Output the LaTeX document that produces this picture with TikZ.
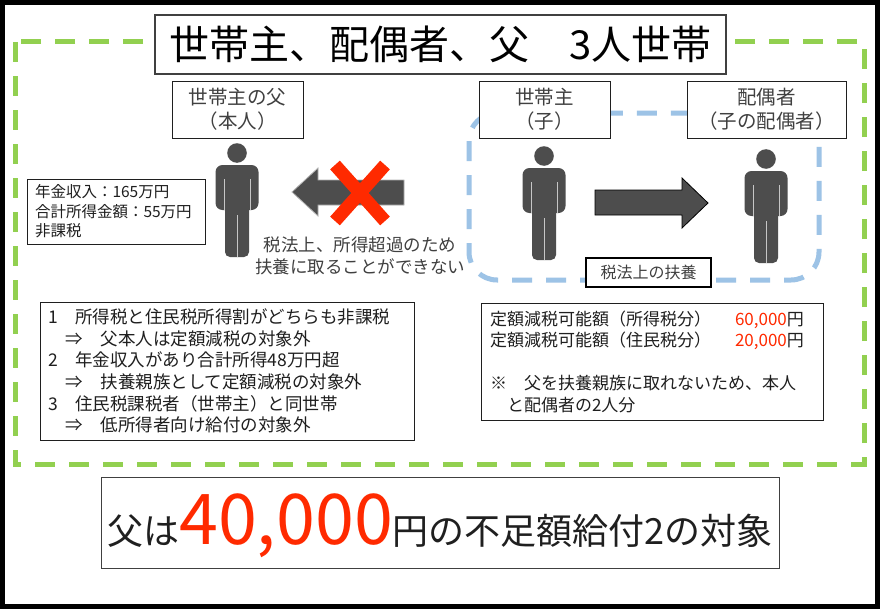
\documentclass[tikz,border=0pt]{standalone}
\usepackage{fontspec}
\setmainfont{Noto Sans CJK JP}
\definecolor{pgreen}{HTML}{92D050}
\definecolor{pblue}{HTML}{9DC3E6}
\definecolor{pgray}{HTML}{4D4D4D}
\definecolor{pred}{HTML}{FF2A00}
\definecolor{ptext}{HTML}{404040}
\definecolor{pdark}{HTML}{1F1F1F}
\tikzset{
  person/.pic={
    \fill[pgray] (0,10) circle (9.8);
    \fill[pgray,rounded corners=7] (-21.5,67) -- (-21.5,22) -- (21.5,22) -- (21.5,67) -- cycle;
    \fill[pgray,rounded corners=5] (-12,60) -- (-12,114) -- (12,114) -- (12,60) -- cycle;
    \draw[gray!45,line width=0.8] (-13,36) -- (-13,67) (13,36) -- (13,67) (0,72) -- (0,114);
  },
  labelbox/.style={draw=pdark,line width=1,fill=white,text=ptext,align=center,
    minimum height=57,inner sep=0,font=\fontsize{19.5}{24}\selectfont},
  infobox/.style={draw=pdark,line width=1,fill=white,text=pdark,align=left,inner ysep=0},
  dashgreen/.style={pgreen,line width=5,dash pattern=on 20 off 14},
  dashblue/.style={pblue,line width=5,dash pattern=on 20 off 14,rounded corners=28},
}
\begin{document}
\begin{tikzpicture}[x=1pt,y=-1pt]
\useasboundingbox (0,0) rectangle (880,610);
\fill[white] (0,0) rectangle (880,610);
\draw[line width=5] (2.5,2.5) rectangle (877.5,606.5);

% frames
\draw[dashgreen] (15,42) rectangle (864,464);
\draw[dashblue] (469,113) rectangle (819,280);

% title
\node[draw=ptext,line width=2,fill=white,minimum width=571,minimum height=59,inner sep=0,
  font=\fontsize{40}{48}\selectfont] (title) at (440.5,44.5) {世帯主、配偶者、父　3人世帯};

% label boxes
\node[labelbox,minimum width=131] (lfather) at (237.5,109.5) {世帯主の父\\（本人）};
\node[labelbox,minimum width=131] (lchild) at (544.5,109.5) {世帯主\\（子）};
\node[labelbox,minimum width=159] (lspouse) at (766.5,109.5) {配偶者\\（子の配偶者）};

% persons
\pic (father) at (237,143) {person};
\pic (child) at (544,146) {person};
\pic (spouse) at (766,149) {person};

% arrows
\filldraw[fill=pgray,draw=gray!60,line width=0.8] (292,192) -- (318,168) -- (318,180) -- (404,180)
  -- (404,205) -- (318,205) -- (318,216) -- cycle;
\filldraw[fill=pgray,draw=black,line width=0.8] (595,190) -- (682,190) -- (682,178) -- (708,203)
  -- (682,228) -- (682,215) -- (595,215) -- cycle;

% red cross
\draw[pred,line width=13] (335,165) -- (385,221) (385,165) -- (335,221);

\node[text=ptext,align=center,font=\fontsize{17.5}{22}\selectfont] (note) at (360,256)
  {税法上、所得超過のため\\扶養に取ることができない};

\node[draw=black,line width=2,fill=white,minimum width=125,minimum height=29,inner sep=0,
  text=ptext,font=\fontsize{16}{19}\selectfont] (fuyou) at (648.5,272.5) {税法上の扶養};

% info box left
\node[infobox,text width=162,inner xsep=8,minimum height=65,
  font=\fontsize{15.5}{19.5}\selectfont] (income) at (116,211.5)
  {年金収入：165万円\\合計所得金額：55万円\\非課税};

% reasons box
\node[infobox,text width=358,inner xsep=8,minimum height=138,
  font=\fontsize{17.5}{21.6}\selectfont] (reasons) at (227,371)
  {1　所得税と住民税所得割がどちらも非課税\\
   　⇒　父本人は定額減税の対象外\\
   2　年金収入があり合計所得48万円超\\
   　⇒　扶養親族として定額減税の対象外\\
   3　住民税課税者（世帯主）と同世帯\\
   　⇒　低所得者向け給付の対象外};

% amounts box
\node[infobox,text width=324,inner xsep=9,minimum height=117,
  font=\fontsize{17}{21.5}\selectfont] (amounts) at (652,361.5)
  {定額減税可能額（所得税分）\hspace{24pt}{\color{pred}60,000}円\\
   定額減税可能額（住民税分）\hspace{24pt}{\color{pred}20,000}円\\[21.5pt]
   ※　父を扶養親族に取れないため、本人\\
   　と配偶者の2人分};

% result
\node[draw=ptext,line width=1,fill=white,minimum width=678,minimum height=91,inner sep=0]
  (resultbox) at (440,522.5) {};
\node[anchor=base,inner sep=0,text=pdark] (result) at (440,544)
  {{\fontsize{36}{40}\selectfont 父は}{\fontsize{70}{80}\selectfont\color{pred}40,000}{\fontsize{36}{40}\selectfont 円の不足額給付2の対象}};
\end{tikzpicture}
\end{document}
